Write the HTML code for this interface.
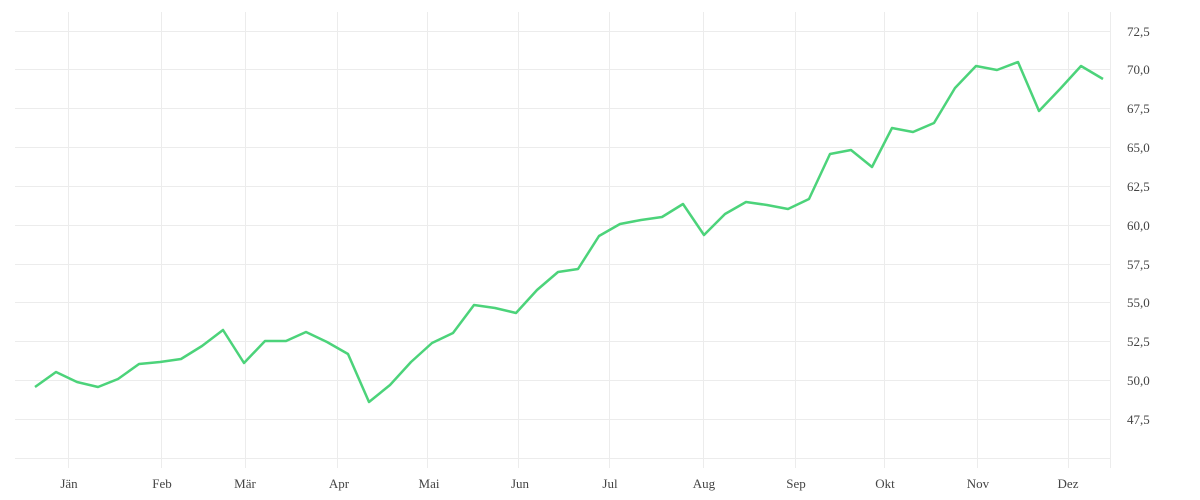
<!DOCTYPE html>
<html><head><meta charset="utf-8"><style>
html,body{margin:0;padding:0;background:#fff;width:1200px;height:500px;overflow:hidden}
text{font-family:"Liberation Serif","DejaVu Serif",serif;font-size:13px;fill:#444}
</style></head><body>
<svg width="1200" height="500" viewBox="0 0 1200 500">
<g stroke="#ececec" stroke-width="1">
<line x1="15" x2="1110" y1="31.5" y2="31.5"/><line x1="15" x2="1110" y1="69.5" y2="69.5"/><line x1="15" x2="1110" y1="108.5" y2="108.5"/><line x1="15" x2="1110" y1="147.5" y2="147.5"/><line x1="15" x2="1110" y1="186.5" y2="186.5"/><line x1="15" x2="1110" y1="225.5" y2="225.5"/><line x1="15" x2="1110" y1="264.5" y2="264.5"/><line x1="15" x2="1110" y1="302.5" y2="302.5"/><line x1="15" x2="1110" y1="341.5" y2="341.5"/><line x1="15" x2="1110" y1="380.5" y2="380.5"/><line x1="15" x2="1110" y1="419.5" y2="419.5"/><line x1="15" x2="1110" y1="458.5" y2="458.5"/>
<line x1="68.5" x2="68.5" y1="12" y2="468"/><line x1="161.5" x2="161.5" y1="12" y2="468"/><line x1="245.5" x2="245.5" y1="12" y2="468"/><line x1="337.5" x2="337.5" y1="12" y2="468"/><line x1="427.5" x2="427.5" y1="12" y2="468"/><line x1="518.5" x2="518.5" y1="12" y2="468"/><line x1="609.5" x2="609.5" y1="12" y2="468"/><line x1="703.5" x2="703.5" y1="12" y2="468"/><line x1="795.5" x2="795.5" y1="12" y2="468"/><line x1="884.5" x2="884.5" y1="12" y2="468"/><line x1="977.5" x2="977.5" y1="12" y2="468"/><line x1="1068.5" x2="1068.5" y1="12" y2="468"/><line x1="1110.5" x2="1110.5" y1="12" y2="468"/>
</g>
<polyline fill="none" stroke="#4cd37a" stroke-width="2.5" stroke-linejoin="round" points="35,387 56,372 77,382 98,387 118,379 139,364 160,362 181,359 202,346 223,330 244,363 265,341 286,341 306,332 327,342 348,354 369,402 390,385 411,362 432,343 453,333 474,305 495,308 516,313 537,290 558,272 578,269 599,236 620,224 641,220 662,217 683,204 704,235 725,214 746,202 767,205 788,209 809,199 830,154 851,150 872,167 892,128 913,132 934,123 955,88 976,66 997,70 1018,62 1039,111 1060,89 1081,66 1103,79"/>
<g text-anchor="start">
<text x="1127" y="36">72,5</text><text x="1127" y="74">70,0</text><text x="1127" y="113">67,5</text><text x="1127" y="152">65,0</text><text x="1127" y="191">62,5</text><text x="1127" y="230">60,0</text><text x="1127" y="269">57,5</text><text x="1127" y="307">55,0</text><text x="1127" y="346">52,5</text><text x="1127" y="385">50,0</text><text x="1127" y="424">47,5</text>
</g>
<g text-anchor="middle">
<text x="69" y="488">Jän</text><text x="162" y="488">Feb</text><text x="245" y="488">Mär</text><text x="339" y="488">Apr</text><text x="429" y="488">Mai</text><text x="520" y="488">Jun</text><text x="610" y="488">Jul</text><text x="704" y="488">Aug</text><text x="796" y="488">Sep</text><text x="885" y="488">Okt</text><text x="978" y="488">Nov</text><text x="1068" y="488">Dez</text>
</g>
</svg>
</body></html>
